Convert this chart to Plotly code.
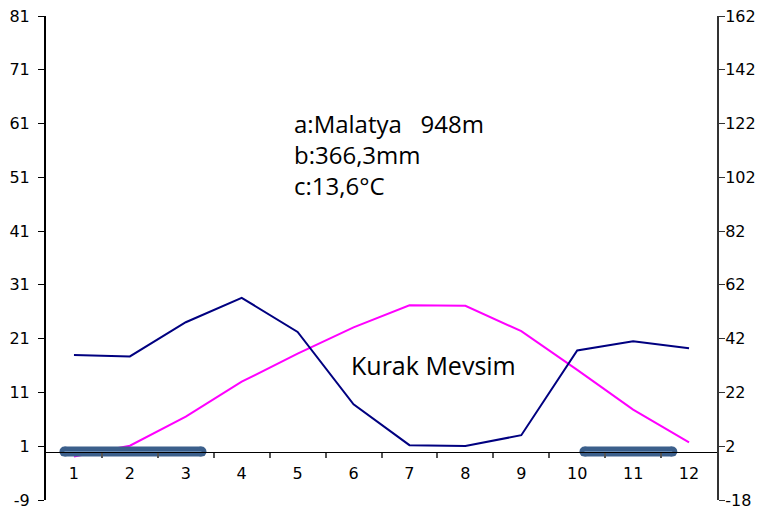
import plotly.graph_objects as go

months = ["1", "2", "3", "4", "5", "6", "7", "8", "9", "10", "11", "12"]
month_pos = [1, 2, 3, 4, 5, 6, 7, 8, 9, 10, 11, 12]
temperature = [-0.9, 1.1, 6.5, 13.0, 18.2, 23.1, 27.2, 27.1, 22.4, 15.2, 7.8, 1.7]
precipitation = [35.9, 35.4, 48.1, 57.2, 44.5, 17.6, 2.4, 2.1, 6.1, 37.6, 41.0, 38.4]
dry_period_1 = [0.83, 3.28]
dry_period_2 = [10.13, 11.70]
dry_level = [0, 0]
left_ticks = [-9, 1, 11, 21, 31, 41, 51, 61, 71, 81]
left_labels = ["-9", "1", "11", "21", "31", "41", "51", "61", "71", "81"]
right_ticks = [-18, 2, 22, 42, 62, 82, 102, 122, 142, 162]
right_labels = ["-18", "2", "22", "42", "62", "82", "102", "122", "142", "162"]
cat_bounds = [1.5, 2.5, 3.5, 4.5, 5.5, 6.5, 7.5, 8.5, 9.5, 10.5, 11.5]

BAR = "#3b5f8b"
tick_font = dict(family="DejaVu Sans, sans-serif", size=16, color="black")
txt_font = dict(family="Open Sans, sans-serif", size=24, color="black")

fig = go.Figure()
fig.add_trace(go.Scatter(x=month_pos, y=precipitation, mode="lines", yaxis="y2",
                         line=dict(color="#000080", width=2), showlegend=False, hoverinfo="skip"))
fig.add_trace(go.Scatter(x=month_pos, y=temperature, mode="lines",
                         line=dict(color="#ff00ff", width=2), showlegend=False, hoverinfo="skip"))
for seg in (dry_period_1, dry_period_2):
    fig.add_trace(go.Scatter(x=seg, y=dry_level, mode="lines+markers",
                             line=dict(color=BAR, width=10),
                             marker=dict(color=BAR, size=10, line=dict(width=0)),
                             showlegend=False, hoverinfo="skip"))
    fig.add_trace(go.Scatter(x=seg, y=dry_level, mode="lines",
                             line=dict(color="#6d8fb8", width=1),
                             showlegend=False, hoverinfo="skip"))

xpos = 9 / 90
common_y = dict(range=[-9, 81], showgrid=False, zeroline=False, automargin=False)
common_y2 = dict(range=[-18, 162], showgrid=False, zeroline=False, automargin=False)
common_x = dict(range=[0.5, 12.5], showgrid=False, zeroline=False, automargin=False)

fig.update_layout(
    width=758, height=505,
    margin=dict(l=38, r=49, t=8, b=13),
    paper_bgcolor="white", plot_bgcolor="white",
    xaxis=dict(**common_x, anchor="free", position=xpos,
               tickvals=month_pos, ticktext=months, ticks="outside", ticklen=0,
               tickcolor="rgba(0,0,0,0)",
               minor=dict(tickmode="array", tickvals=cat_bounds, ticks="outside", ticklen=5,
                          tickwidth=1.5, tickcolor="#555", showgrid=False),
               showline=True, linecolor="black", linewidth=1, tickfont=tick_font,
               ticklabelstandoff=7),
    xaxis2=dict(**common_x, overlaying="x", anchor="y", side="bottom",
                showline=True, mirror=True, linecolor="#8c8c8c", linewidth=2,
                showticklabels=False, ticks=""),
    yaxis=dict(**common_y, tickvals=left_ticks, ticktext=left_labels, ticks="outside", ticklen=6,
               tickcolor="black", showline=True, linecolor="black", linewidth=2,
               tickfont=tick_font, ticklabelstandoff=5, ticklabeloverflow="allow"),
    yaxis3=dict(**common_y, overlaying="y", side="left", anchor="x", tickvals=left_ticks,
                ticks="inside", ticklen=6, tickcolor="black", showticklabels=False, showline=False),
    yaxis2=dict(**common_y2, overlaying="y", side="right", anchor="x", tickvals=right_ticks,
                ticktext=right_labels, ticks="outside", ticklen=6, tickcolor="#333",
                showline=True, linecolor="#333", linewidth=2, tickfont=tick_font,
                ticklabelstandoff=-3, ticklabeloverflow="allow"),
    yaxis4=dict(**common_y2, overlaying="y", side="right", anchor="x", tickvals=right_ticks,
                ticks="inside", ticklen=6, tickcolor="#333", showticklabels=False, showline=False),
)

notes = [("a:Malatya\u00a0\u00a0 948m", 0.778), ("b:366,3mm", 0.713), ("c:13,6°C", 0.650)]
for t, yy in notes:
    fig.add_annotation(text=t, xref="paper", yref="paper", x=0.3666, y=yy,
                       xanchor="left", yanchor="middle", showarrow=False, font=txt_font)
fig.add_annotation(text="Kurak Mevsim", xref="paper", yref="paper", x=0.4516, y=0.279,
                   xanchor="left", yanchor="middle", showarrow=False,
                   font=dict(family="Open Sans, sans-serif", size=25, color="black"))

fig.write_html("out.html")
